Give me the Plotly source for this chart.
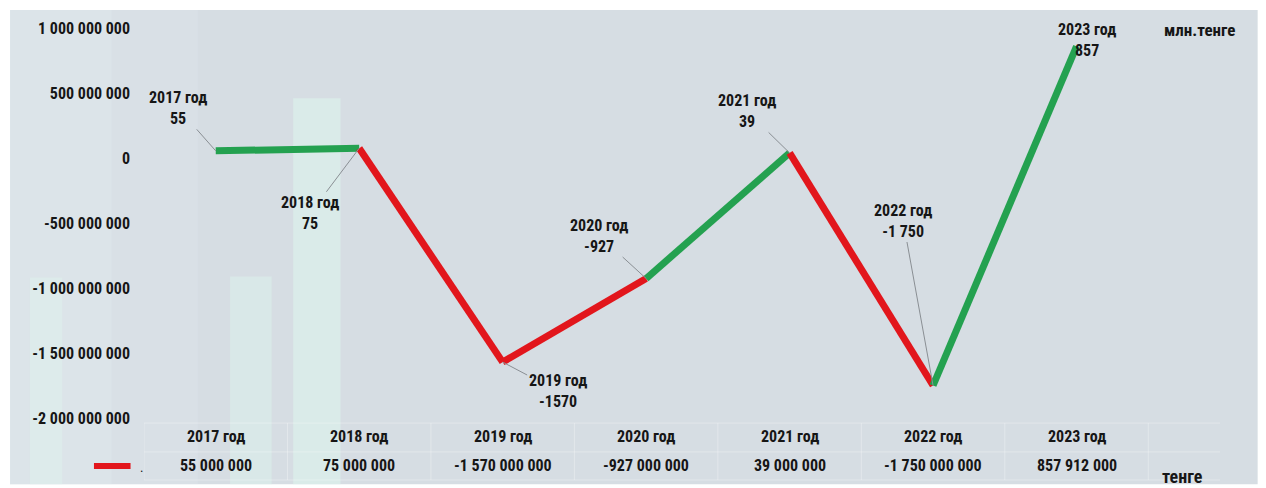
import plotly.graph_objects as go

# ---- data ----
years = [2017, 2018, 2019, 2020, 2021, 2022, 2023]
year_labels = ["2017 год", "2018 год", "2019 год", "2020 год", "2021 год", "2022 год", "2023 год"]
values = [55000000, 75000000, -1570000000, -927000000, 39000000, -1750000000, 857912000]
value_labels_mln = ["55", "75", "-1570", "-927", "39", "-1 750", "857"]
table_values = ["55 000 000", "75 000 000", "-1 570 000 000", "-927 000 000",
                "39 000 000", "-1 750 000 000", "857 912 000"]
segment_colors = ["green", "red", "red", "green", "red", "green"]
tick_vals = [1000000000, 500000000, 0, -500000000, -1000000000, -1500000000, -2000000000]
tick_text = [f"{v:,}".replace(",", " ") for v in tick_vals]

COL = {"green": "#24a150", "red": "#e2161c"}
FONT = "Liberation Sans Narrow, Roboto Condensed, Arial Narrow, sans-serif"
TXT = "#161616"

# label offsets (pixels) for the callouts
label_offsets = [(-38, -43), (-49, 65), (55, 29), (-47, -43), (-43, -42), (-30, -165), (10, -6)]

fig = go.Figure()

for i, c in enumerate(segment_colors):
    fig.add_trace(go.Scatter(
        x=years[i:i + 2], y=values[i:i + 2], mode="lines",
        line=dict(color=COL[c], width=7), showlegend=False, hoverinfo="skip"))

annotations = []
for yr, v, lab, yl, (ax, ay) in zip(years, values, value_labels_mln, year_labels, label_offsets):
    annotations.append(dict(
        x=yr, y=v, xref="x", yref="y", text=f"<b>{yl}</b><br><b>{lab}</b>",
        showarrow=True, arrowhead=0, arrowwidth=1, arrowcolor="#8a8f94",
        ax=ax, ay=ay, font=dict(family=FONT, size=16, color=TXT), align="center"))

# data table below the plot
for yr, yl, tv in zip(years, year_labels, table_values):
    annotations.append(dict(x=yr, y=-0.0487, xref="x", yref="paper", text=f"<b>{yl}</b>",
                            yanchor="middle", showarrow=False,
                            font=dict(family=FONT, size=16, color=TXT)))
    annotations.append(dict(x=yr, y=-0.123, xref="x", yref="paper", text=f"<b>{tv}</b>",
                            yanchor="middle", showarrow=False,
                            font=dict(family=FONT, size=16, color=TXT)))

annotations.append(dict(x=2023.74, y=-0.151, xref="x", yref="paper", text="<b>тенге</b>",
                        yanchor="middle", showarrow=False,
                        font=dict(family=FONT, size=18, color=TXT)))
annotations.append(dict(x=2023.86, y=0.995, xref="x", yref="paper", text="<b>млн.тенге</b>",
                        yanchor="middle", showarrow=False,
                        font=dict(family=FONT, size=17, color=TXT)))
annotations.append(dict(x=-0.006, y=-0.128, xref="paper", yref="paper", text=".",
                        yanchor="middle", showarrow=False,
                        font=dict(family=FONT, size=13, color=TXT)))

shapes = [
    # background panel
    dict(type="rect", xref="paper", yref="paper", x0=-0.1245, x1=1.035, y0=-0.17, y1=1.046,
         fillcolor="#d6dde3", line=dict(width=0), layer="below"),
    dict(type="rect", xref="paper", yref="paper", x0=-0.1245, x1=-0.03, y0=-0.17, y1=1.046,
         fillcolor="rgba(232,240,244,0.35)", line=dict(width=0), layer="below"),
    dict(type="rect", xref="paper", yref="paper", x0=-0.03, x1=0.05, y0=-0.17, y1=1.046,
         fillcolor="rgba(232,240,244,0.18)", line=dict(width=0), layer="below"),
    # faint background bars
    dict(type="rect", xref="x", yref="paper", x0=2017.54, x1=2017.87, y0=-0.17, y1=0.82,
         fillcolor="rgba(222,246,238,0.55)", line=dict(width=0), layer="below"),
    dict(type="rect", xref="x", yref="paper", x0=2017.10, x1=2017.39, y0=-0.17, y1=0.363,
         fillcolor="rgba(222,246,238,0.45)", line=dict(width=0), layer="below"),
    dict(type="rect", xref="paper", yref="paper", x0=-0.106, x1=-0.076, y0=-0.17, y1=0.36,
         fillcolor="rgba(222,246,238,0.4)", line=dict(width=0), layer="below"),
    # legend key
    dict(type="line", xref="paper", yref="paper", x0=-0.0465, x1=-0.0125, y0=-0.123, y1=-0.123,
         line=dict(color=COL["red"], width=6)),
]
# table grid lines
for k in range(len(years) + 1):
    shapes.append(dict(type="line", xref="x", yref="paper", x0=2016.5 + k, x1=2016.5 + k,
                       y0=-0.013, y1=-0.159, line=dict(color="rgba(255,255,255,0.3)", width=1),
                       layer="below"))
for yy in (-0.013, -0.087, -0.159):
    shapes.append(dict(type="line", xref="x", yref="paper", x0=2016.5, x1=2024.0, y0=yy, y1=yy,
                       line=dict(color="rgba(255,255,255,0.3)", width=1), layer="below"))

fig.update_layout(
    width=1266, height=488,
    margin=dict(l=136, r=54, t=20, b=78),
    paper_bgcolor="white", plot_bgcolor="rgba(0,0,0,0)",
    annotations=annotations, shapes=shapes,
    xaxis=dict(range=[2016.5, 2024.0], showgrid=False, zeroline=False, showticklabels=False,
               showline=False, fixedrange=True),
    yaxis=dict(range=[-2.0e9, 1.0e9], tickvals=tick_vals, ticktext=[f"<b>{t}</b>" for t in tick_text],
               showgrid=False, zeroline=False, showline=False, ticks="", ticklabelstandoff=13,
               tickfont=dict(family=FONT, size=16, color=TXT)),
)

fig.write_html("out.html")
